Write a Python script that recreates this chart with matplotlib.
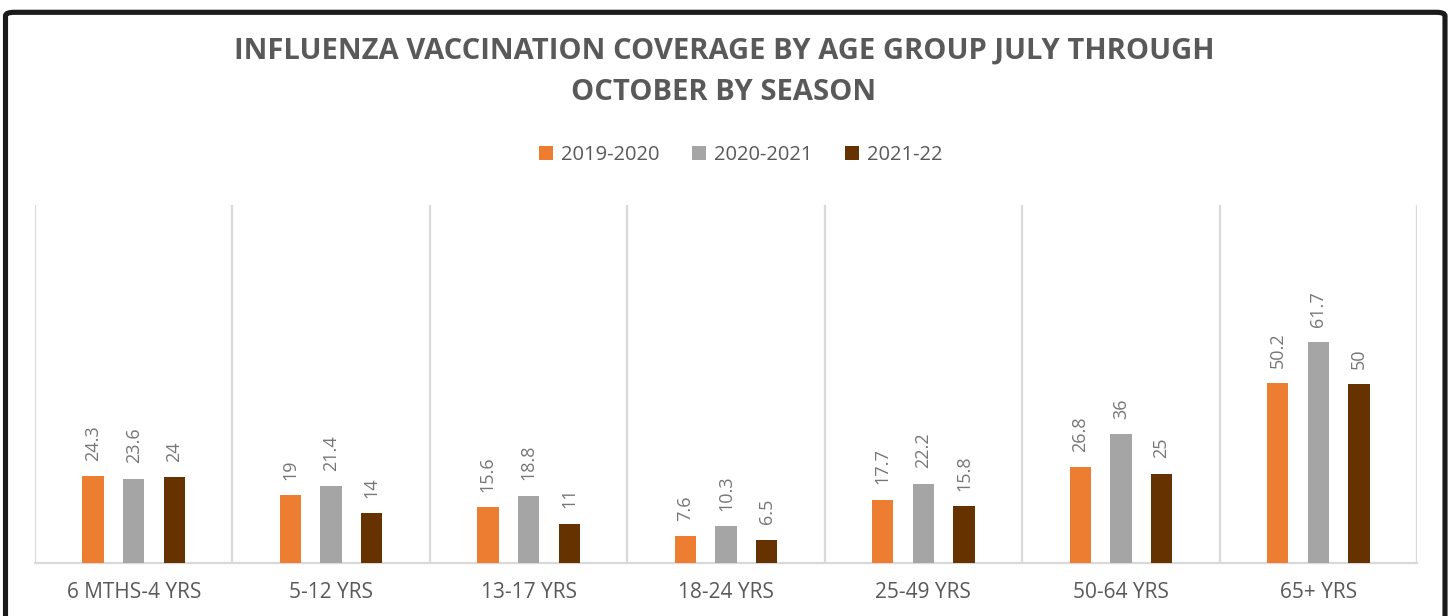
import matplotlib
matplotlib.use("Agg")
import matplotlib.pyplot as plt
import numpy as np
from matplotlib.patches import FancyBboxPatch, Patch

categories = ["6 MTHS-4 YRS", "5-12 YRS", "13-17 YRS", "18-24 YRS", "25-49 YRS", "50-64 YRS", "65+ YRS"]
series_names = ["2019-2020", "2020-2021", "2021-22"]
s2019 = [24.3, 19, 15.6, 7.6, 17.7, 26.8, 50.2]
s2020 = [23.6, 21.4, 18.8, 10.3, 22.2, 36, 61.7]
s2021 = [24, 14, 11, 6.5, 15.8, 25, 50]
label_2019 = ["24.3", "19", "15.6", "7.6", "17.7", "26.8", "50.2"]
label_2020 = ["23.6", "21.4", "18.8", "10.3", "22.2", "36", "61.7"]
label_2021 = ["24", "14", "11", "6.5", "15.8", "25", "50"]
title = "INFLUENZA VACCINATION COVERAGE BY AGE GROUP JULY THROUGH\nOCTOBER BY SEASON"

colors = ["#ED7D31", "#A5A5A5", "#663300"]
font = "Open Sans"

W, H = 1455, 616
fig = plt.figure(figsize=(W / 100, H / 100), dpi=100)
fig.patch.set_facecolor("white")

# outer black rounded border (bottom runs off the image)
border = FancyBboxPatch((5.5 / W, -20 / H), (1445 - 5.5) / W, (H - 12.3 + 20) / H,
                        boxstyle="round,pad=0,rounding_size=0.006",
                        transform=fig.transFigure, facecolor="none",
                        edgecolor="#1A1A1A", linewidth=3.7, zorder=10)
fig.patches.append(border)

ax = fig.add_axes([35 / W, 1 - 563 / H, (1417 - 35) / W, (563 - 205) / H])
n = len(categories)
x = np.arange(n)
offs = [-0.206, 0.0, 0.206]
bw = 0.108
all_series = [s2019, s2020, s2021]
all_labels = [label_2019, label_2020, label_2021]
for k in range(3):
    bars = ax.bar(x + offs[k], all_series[k], width=bw, color=colors[k], zorder=3,
                  label=series_names[k])
    for b, lab in zip(bars, all_labels[k]):
        ax.annotate(lab, (b.get_x() + b.get_width() / 2, b.get_height()),
                    xytext=(0, 11), textcoords="offset points", rotation=90,
                    ha="center", va="bottom", fontsize=13, color="#767676",
                    family=font)

ax.set_xlim(-0.5, n - 0.5)
ax.set_ylim(0, 100)
ax.set_yticks([])
ax.set_xticks(x)
ax.set_xticklabels(categories, fontsize=15, color="#595959", family=font)
ax.tick_params(axis="x", length=0, pad=14)
for b in np.arange(-0.5, n, 1.0):
    ax.axvline(b, color="#D9D9D9", linewidth=1.6, zorder=1)
for s in ["top", "right", "left"]:
    ax.spines[s].set_visible(False)
ax.spines["bottom"].set_color("#D9D9D9")
ax.spines["bottom"].set_linewidth(1.6)

fig.text(724 / W, 1 - 72 / H, title, ha="center", va="center", fontsize=21,
         fontweight="bold", color="#595959", family=font, linespacing=1.55)

handles = [Patch(facecolor=c, edgecolor="none") for c in colors]
fig.legend(handles, series_names, loc="center", bbox_to_anchor=(741 / W, 1 - 155 / H),
           ncol=3, frameon=False, prop={"family": font, "size": 14.5},
           labelcolor="#595959", handlelength=0.7, handleheight=0.7,
           handletextpad=0.4, columnspacing=1.6)

fig.savefig("out.png", dpi=100, facecolor="white")
